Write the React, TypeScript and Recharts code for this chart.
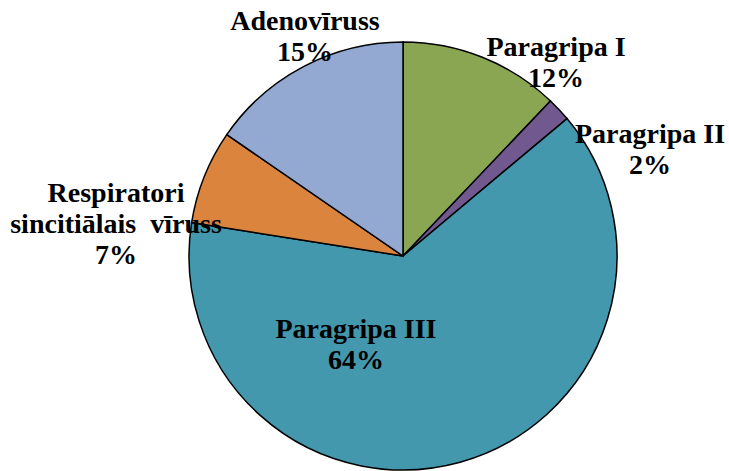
import React from 'react';
import { PieChart, Pie, Cell } from 'recharts';

const names = ['Paragripa I', 'Paragripa II', 'Paragripa III', 'Respiratori sincitiālais vīruss', 'Adenovīruss'];
const values = [12.1, 1.8, 63.6, 7.1, 15.4];
const labelLines = [['Paragripa I'], ['Paragripa II'], ['Paragripa III'], ['Respiratori', 'sincitiālais  vīruss'], ['Adenovīruss']];
const colors = ['#8AA653', '#71588F', '#4398AE', '#DB843D', '#93A9D1'];

const data = names.map((name, i) => ({ name, value: values[i] }));

// layout only: where each label's first line sits, relative to pie centre
const CX = 403;
const CY = 256;
const labelOffsets = [
  [153, -210],
  [247, -123],
  [-47, 72],
  [-287, -64],
  [-98, -236],
];
const LINE_H = 31;

const renderLabel = (props: any) => {
  const { index, percent } = props;
  const [dx, dy] = labelOffsets[index];
  const lines = [...labelLines[index], `${Math.round(percent * 100)}%`];
  return (
    <text
      x={CX + dx}
      y={CY + dy}
      textAnchor="middle"
      fill="#000"
      fontFamily="'Liberation Serif', 'Times New Roman', serif"
      fontWeight="bold"
      fontSize={28}
    >
      {lines.map((l, i) => (
        <tspan key={i} x={CX + dx} y={CY + dy + i * LINE_H} dominantBaseline="central" style={{ whiteSpace: 'pre' }}>
          {l}
        </tspan>
      ))}
    </text>
  );
};

export default function App() {
  return (
    <div style={{ position: 'absolute', left: 0, top: 0, width: 729, height: 471, background: '#fff' }}>
      <PieChart width={729} height={471} margin={{ top: 0, right: 0, bottom: 0, left: 0 }}>
        <Pie
          data={data}
          dataKey="value"
          nameKey="name"
          cx={CX}
          cy={CY}
          outerRadius={214}
          startAngle={90}
          endAngle={-270}
          stroke="#000"
          strokeWidth={1.5}
          label={renderLabel}
          labelLine={false}
          isAnimationActive={false}
        >
          {data.map((d, i) => (
            <Cell key={d.name} fill={colors[i]} />
          ))}
        </Pie>
      </PieChart>
    </div>
  );
}
